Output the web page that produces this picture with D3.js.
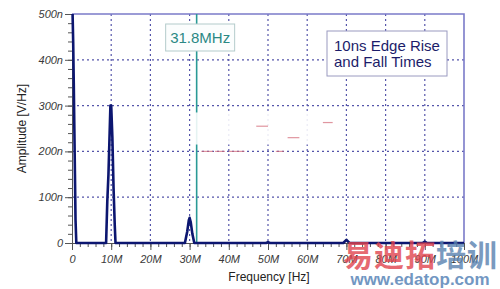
<!DOCTYPE html>
<meta charset="utf-8">
<style>
    body { margin: 0; background: #fff; }
    svg { font-family: "Liberation Sans", Arial, sans-serif; }
    .tick text { font-style: italic; font-size: 11px; fill: #3a3a3a; }
    .axis path, .axis line { stroke: #555; }
    .grid line { stroke: #5555aa; stroke-dasharray: 2, 3; stroke-width: 1.2; }
    path.spectrum { fill: none; stroke: #0c1670; stroke-width: 2.6; stroke-linejoin: round; }
</style>
<body>
<script src="https://cdn.jsdelivr.net/npm/d3@7"></script>
<script>

    // spectrum: frequency in MHz, amplitude in nV/Hz
    var freqMHz = [0, 0.15, 0.3, 0.45, 0.6, 0.75, 0.9, 1.1,
                   8.7, 9.0, 9.3, 9.6, 9.8, 10.0, 10.3, 10.6, 10.9, 11.1,
                   28.8, 29.4, 29.8, 30.0, 30.3, 30.7, 31.2,
                   49.5, 50, 50.5,
                   69.2, 70, 70.8,
                   89.4, 90, 90.6,
                   100];
    var ampN = [560, 500, 440, 350, 250, 150, 50, 0,
                0, 90, 150, 240, 300, 300, 230, 120, 40, 0,
                0, 25, 50, 55, 45, 20, 0,
                0, 2, 0,
                0, 7, 0,
                0, 3, 0,
                0];

    var xTicks = [0, 10, 20, 30, 40, 50, 60, 70, 80, 90, 100];
    var xTickLabels = ["0", "10M", "20M", "30M", "40M", "50M", "60M", "70M", "80M", "90M", "100M"];
    var yTicks = [0, 100, 200, 300, 400, 500];
    var yTickLabels = ["0", "100n", "200n", "300n", "400n", "500n"];

    var markerMHz = 31.8;
    var markerLabel = "31.8MHz";
    var noteLines = ["10ns Edge Rise", "and Fall Times"];

    var margin = {top: 14, right: 36, bottom: 46, left: 72},
        width = 500 - margin.left - margin.right,
        height = 289 - margin.top - margin.bottom;

    var x = d3.scaleLinear().domain([0, 100]).range([0, width]);
    var y = d3.scaleLinear().domain([0, 500]).range([height, 0]);

    var svg = d3.select("body").append("svg")
            .attr("width", 500)
            .attr("height", 289);

    var g = svg.append("g")
            .attr("transform", "translate(" + margin.left + "," + margin.top + ")");

    g.append("clipPath")
            .attr("id", "clip")
        .append("rect")
            .attr("x", -2).attr("y", 0)
            .attr("width", width + 4).attr("height", height + 2);

    // dotted grid
    g.append("g").attr("class", "grid")
        .selectAll("line").data(xTicks.slice(1, -1)).enter().append("line")
            .attr("x1", x).attr("x2", x)
            .attr("y1", 0).attr("y2", height);
    g.append("g").attr("class", "grid")
        .selectAll("line").data(yTicks.slice(1, -1)).enter().append("line")
            .attr("y1", y).attr("y2", y)
            .attr("x1", 0).attr("x2", width);

    // frame top & right
    g.append("path")
            .attr("d", "M0,0H" + width + "V" + height)
            .attr("fill", "none")
            .attr("stroke", "#7b7bc9")
            .attr("stroke-width", 1.6);

    // marker line
    g.append("line")
            .attr("x1", x(markerMHz)).attr("x2", x(markerMHz))
            .attr("y1", 0).attr("y2", height)
            .attr("stroke", "#2a9a96")
            .attr("stroke-width", 1.6);

    // erased patch in the middle of the picture
    g.append("rect")
            .attr("x", x(31.2)).attr("y", y(285))
            .attr("width", x(66) - x(31.2)).attr("height", y(215) - y(285))
            .attr("fill", "#fff").attr("opacity", 0.88);
    var smears = [[33, 200, 3], [36.5, 200, 2.5], [40, 200, 4], [52, 200, 2], [55, 230, 3], [64, 263, 2.5], [47, 255, 3]];
    g.append("g").selectAll("line").data(smears).enter().append("line")
            .attr("x1", function(d) { return x(d[0]); })
            .attr("x2", function(d) { return x(d[0] + d[2]); })
            .attr("y1", function(d) { return y(d[1]); })
            .attr("y2", function(d) { return y(d[1]); })
            .attr("stroke", "#d46a78").attr("stroke-width", 1.2).attr("opacity", 0.7);

    // minor ticks
    g.append("g").attr("class", "axis")
            .attr("transform", "translate(0," + height + ")")
            .call(d3.axisBottom(x).tickValues(d3.range(0, 101, 2)).tickSize(4).tickFormat(""))
            .select(".domain").remove();
    g.append("g").attr("class", "axis")
            .call(d3.axisLeft(y).tickValues(d3.range(0, 501, 20)).tickSize(4).tickFormat(""))
            .select(".domain").remove();

    // major ticks
    g.append("g").attr("class", "axis")
            .attr("transform", "translate(0," + height + ")")
            .call(d3.axisBottom(x).tickValues(xTicks).tickSize(7).tickSizeOuter(0).tickPadding(5)
                .tickFormat(function(d, i) { return xTickLabels[i]; }));
    g.append("g").attr("class", "axis")
            .call(d3.axisLeft(y).tickValues(yTicks).tickSize(7).tickSizeOuter(0).tickPadding(2)
                .tickFormat(function(d, i) { return yTickLabels[i]; }));

    // spectrum
    var line = d3.line()
            .x(function(d, i) { return x(freqMHz[i]); })
            .y(function(d) { return y(d); });
    g.append("path")
            .attr("class", "spectrum")
            .attr("clip-path", "url(#clip)")
            .attr("d", line(ampN));

    // marker label
    var mx = x(markerMHz);
    g.append("rect")
            .attr("x", mx - 31).attr("y", 10)
            .attr("width", 69).attr("height", 27)
            .attr("fill", "#fbfdfd")
            .attr("stroke", "#b4cccc");
    g.append("text")
            .attr("x", mx + 3.5).attr("y", 29)
            .attr("text-anchor", "middle")
            .attr("font-size", 15)
            .attr("fill", "#2a8884")
            .text(markerLabel);

    // note box
    g.append("rect")
            .attr("x", 255).attr("y", 17)
            .attr("width", 120).attr("height", 45)
            .attr("fill", "#fff")
            .attr("stroke", "#9a9ac0");
    g.append("g").selectAll("text").data(noteLines).enter().append("text")
            .attr("x", 262)
            .attr("y", function(d, i) { return 37 + i * 16; })
            .attr("font-size", 15)
            .attr("fill", "#1c1c6a")
            .text(function(d) { return d; });

    // axis titles
    svg.append("text")
            .attr("transform", "translate(26," + (margin.top + height / 2) + ") rotate(-90)")
            .attr("text-anchor", "middle")
            .attr("font-size", 12)
            .attr("fill", "#222")
            .text("Amplitude [V/Hz]");
    svg.append("text")
            .attr("x", 269).attr("y", 281)
            .attr("text-anchor", "middle")
            .attr("font-size", 12)
            .attr("fill", "#222")
            .text("Frequency [Hz]");

    // site watermark
    svg.append("text")
            .attr("x", 343).attr("y", 266)
            .attr("font-family", "Noto Sans CJK SC")
            .attr("font-weight", "bold")
            .attr("font-size", 30)
            .attr("letter-spacing", 1)
            .attr("opacity", 0.8)
            .selectAll("tspan").data([["易迪拓", "#e0444e"], ["培训", "#5a82b0"]]).enter().append("tspan")
            .attr("fill", function(d) { return d[1]; })
            .text(function(d) { return d[0]; });
    svg.append("text")
            .attr("x", 420).attr("y", 285)
            .attr("text-anchor", "middle")
            .attr("font-weight", "bold")
            .attr("font-size", 17)
            .attr("fill", "#5a86b8")
            .attr("opacity", 0.85)
            .text("www.edatop.com");

</script>
